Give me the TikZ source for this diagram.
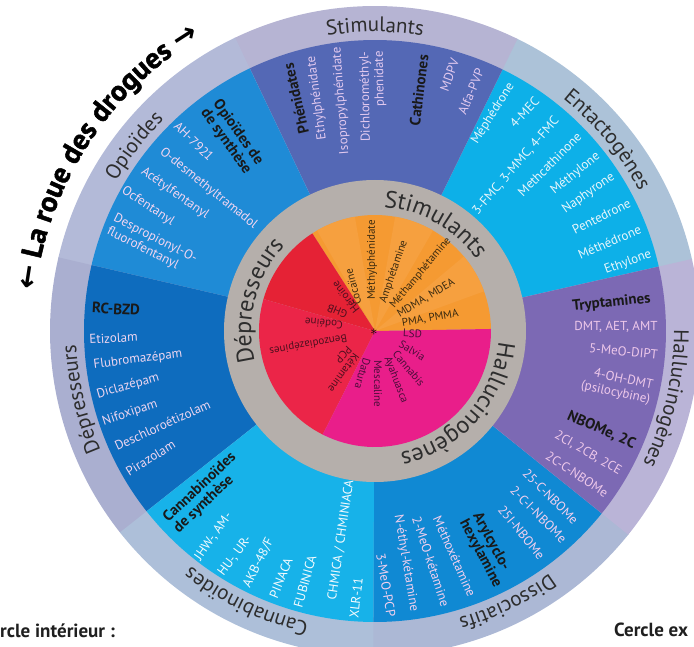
\documentclass[tikz,border=0pt]{standalone}
\usepackage{fontspec}
\setmainfont{PT Sans}
\newfontfamily\arrowfont{DejaVu Sans}
\newfontfamily\titlefam{PT Sans}[BoldFont={PT Sans Bold},BoldFeatures={FakeBold=1.6}]
\usetikzlibrary{decorations.text}

\definecolor{bandEnt}{HTML}{ACC2D8}
\definecolor{bandSti}{HTML}{B6B4D3}
\definecolor{bandOpi}{HTML}{B3BAD8}
\definecolor{bandDep}{HTML}{AAAFD0}
\definecolor{bandCan}{HTML}{ADBFD9}
\definecolor{bandDis}{HTML}{ACB8D5}
\definecolor{bandHal}{HTML}{BAB4D7}
\definecolor{secEnt}{HTML}{0DB0E8}
\definecolor{secSti}{HTML}{5468B5}
\definecolor{secOpi}{HTML}{1F8BD6}
\definecolor{secDep}{HTML}{0E6CBE}
\definecolor{secCan}{HTML}{17B2E9}
\definecolor{secDis}{HTML}{1089D3}
\definecolor{secHal}{HTML}{7C69B4}
\definecolor{stiT}{HTML}{E2C9EF}
\definecolor{entT}{HTML}{E8F6FB}
\definecolor{halT}{HTML}{EEC8EA}
\definecolor{disT}{HTML}{F2D0EE}
\definecolor{canT}{HTML}{F4FBFE}
\definecolor{depT}{HTML}{EED6F0}
\definecolor{opiT}{HTML}{F3D6F1}
\definecolor{ringgray}{HTML}{B5AFAB}
\definecolor{ringT}{HTML}{2D2D2D}
\definecolor{orA}{HTML}{F59A32}
\definecolor{orB}{HTML}{F6A03F}
\definecolor{redA}{HTML}{E52235}
\definecolor{redB}{HTML}{EB2548}
\definecolor{pinkA}{HTML}{E91E8A}
\definecolor{stimT}{HTML}{3A2A10}
\definecolor{depInT}{HTML}{4E0F1E}
\definecolor{halInT}{HTML}{4B0D3A}

\newcommand{\itmfont}{\fontsize{13}{14.5}\selectfont}
\newcommand{\hdrfont}{\fontsize{15}{15}\selectfont\bfseries}
\newcommand{\piefont}{\fontsize{11}{11}\selectfont}
\newcommand{\ringfont}{\fontsize{21}{21}\selectfont}
\newcommand{\innerfont}{\fontsize{24}{24}\selectfont}
\newcommand{\titlefont}{\titlefam\fontsize{29}{29}\selectfont\bfseries}
\newcommand{\botfont}{\fontsize{19}{19}\selectfont\bfseries}

\begin{document}
\begin{tikzpicture}[x=1pt,y=1pt,line cap=round,line join=round,
  itm/.style={font=\itmfont,inner sep=0pt},
  hdr/.style={font=\hdrfont,text=black!90,inner sep=0pt},
  pie/.style={font=\piefont,inner sep=0pt,anchor=west},
  ringlbl/.style={decorate,decoration={text along path,text align=center,text color=ringT,text={|\ringfont|#1}}},
  innerlbl/.style={decorate,decoration={text along path,text align=center,text color=ringT,text={|\innerfont|#1}}},
  titlelbl/.style={decorate,decoration={text along path,text align=center,text={|\titlefont|#1}}}]
\useasboundingbox (-375,-315) rectangle (319,331);
\clip (-375,-315) rectangle (319,331);

% outer band and the seven sectors
\foreach \a/\bc/\sc in {12.6/bandEnt/secEnt,64/bandSti/secSti,115.5/bandOpi/secOpi,166.9/bandDep/secDep,218.3/bandCan/secCan,269.7/bandDis/secDis,321.2/bandHal/secHal}
{
  \fill[\bc] (0,0) -- (\a:325) arc[start angle=\a,delta angle=51.6,radius=325] -- cycle;
  \fill[\sc] (0,0) -- (\a:291) arc[start angle=\a,delta angle=51.6,radius=291] -- cycle;
}

% inner ring and pie
\fill[ringgray] (0,0) circle[radius=151];
\fill[orA] (0,0) -- (1:116) arc[start angle=1,end angle=122.7,radius=116] -- cycle;
\foreach \a in {20,60,100}
  \fill[orB] (0,0) -- (\a:116) arc[start angle=\a,delta angle=20,radius=116] -- cycle;
\fill[redA] (0,0) -- (122.7:116) arc[start angle=122.7,end angle=164,radius=116] -- cycle;
\fill[redB] (0,0) -- (164:116) arc[start angle=164,end angle=243.2,radius=116] -- cycle;
\fill[pinkA] (0,0) -- (243.2:116) arc[start angle=243.2,end angle=361,radius=116] -- cycle;

% ring labels
\path[ringlbl=Stimulants] (150:299) arc[start angle=150,end angle=30,radius=299];
\path[ringlbl=Entactogènes] (99.5:299) arc[start angle=99.5,end angle=-20.5,radius=299];
\path[ringlbl=Hallucinogènes] (47:299) arc[start angle=47,end angle=-73,radius=299];
\path[ringlbl=Dissociatifs] (-4:299) arc[start angle=-4,end angle=-124,radius=299];
\path[ringlbl=Cannabinoïdes] (304.6:299) arc[start angle=304.6,end angle=184.6,radius=299];
\path[ringlbl=Dépresseurs] (253:299) arc[start angle=253,end angle=133,radius=299];
\path[ringlbl=Opioïdes] (202.4:299) arc[start angle=202.4,end angle=82.4,radius=299];
\path[innerlbl=Stimulants] (120.5:124) arc[start angle=120.5,end angle=0.5,radius=124];
\path[innerlbl=Dépresseurs] (225.5:124) arc[start angle=225.5,end angle=105.5,radius=124];
\path[innerlbl=Hallucinogènes] (18.3:124) arc[start angle=18.3,end angle=-101.7,radius=124];
\path[titlelbl={{\arrowfont ←} La roue des drogues {\arrowfont →}}] (207:342) arc[start angle=207,end angle=87,radius=342];

% stimulants
\node[hdr,rotate=103] (phenidates) at (-79,232.5) {Phénidates};
\node[itm,text=stiT,rotate=97.6] (ethylphen) at (-58,233) {Ethylphénidate};
\node[itm,text=stiT,rotate=94.3] (isoprop) at (-34,230) {Isopropylphénidate};
\node[itm,text=stiT,rotate=91,align=right] (dichloro) at (-2,234.5) {Dichlorométhyl-\\phenidate};
\node[hdr,rotate=83] (cathinones) at (44,241) {Cathinones};
\node[itm,text=stiT,rotate=70] (mdpv) at (74.5,256) {MDPV};
\node[itm,text=stiT,rotate=67.5] (alfapvp) at (96,239.5) {Alfa-PVP};

% entactogenes
\node[itm,text=entT,rotate=57.9] (mephedrone) at (118,217.5) {Méphédrone};
\node[itm,text=entT,rotate=46.9] (fourmec) at (149.5,218.5) {4-MEC};
\node[itm,text=entT,rotate=49.2] (fmc) at (141,165) {3-FMC, 3-MMC, 4-FMC};
\node[itm,text=entT,rotate=45] (methcath) at (174.5,166.5) {Methcathinone};
\node[itm,text=entT,rotate=39] (methylone) at (200.5,157.5) {Méthylone};
\node[itm,text=entT,rotate=35] (naphyrone) at (213.5,138) {Naphyrone};
\node[itm,text=entT,rotate=26.9] (pentedrone) at (226.5,114.5) {Pentedrone};
\node[itm,text=entT,rotate=23.5] (methedrone) at (234.5,89) {Méthédrone};
\node[itm,text=entT,rotate=20] (ethylone) at (253,68.5) {Ethylone};

% hallucinogenes
\node[hdr,rotate=6] (tryptamines) at (236.5,28) {Tryptamines};
\node[itm,text=halT,rotate=0] (dmt) at (241,4) {DMT, AET, AMT};
\node[itm,text=halT,rotate=-5.5] (fivemeo) at (248.5,-20.5) {5-MeO-DIPT};
\node[itm,text=halT,rotate=-12,align=right] (psilo) at (242,-55) {4-OH-DMT\\(psilocybine)};
\node[hdr,rotate=-23.8] (nbome) at (226.5,-99) {NBOMe, 2C};
\node[itm,text=halT,rotate=-29.7] (twoci) at (213,-122) {2CI, 2CB, 2CE};
\node[itm,text=halT,rotate=-33] (twocc) at (202,-143.5) {2C-C-NBOMe};

% dissociatifs
\node[itm,text=disT,rotate=-45] (cfive) at (175.5,-165.5) {25-C-NBOMe};
\node[itm,text=disT,rotate=-45] (cinbome) at (163.5,-183.5) {2-C-I-NBOMe};
\node[itm,text=disT,rotate=-50.7] (ifive) at (146.5,-201.5) {25I-NBOMe};
\node[hdr,rotate=-62,align=left] (arylcyclo) at (112,-219) {Arylcyclo-\\hexylamine};
\node[itm,text=disT,rotate=-65.9] (methoxet) at (79.5,-225.5) {Méthoxétamine};
\node[itm,text=disT,rotate=-71.7] (meoket) at (56,-230.5) {2-MeO-kétamine};
\node[itm,text=disT,rotate=-80.4] (nethyl) at (31,-232) {N-éthyl-kétamine};
\node[itm,text=disT,rotate=-80.3] (meopcp) at (11,-254) {3-MeO-PCP};

% cannabinoides
\node[hdr,rotate=43.5,align=left] (cannasyn) at (-170,-162) {Cannabinoïdes\\de synthèse};
\node[itm,text=canT,rotate=54.9] (jhw) at (-161.5,-205.5) {JHW-, AM-};
\node[itm,text=canT,rotate=53] (huur) at (-140,-225) {HU-, UR-};
\node[itm,text=canT,rotate=63.4] (akb) at (-116.5,-232) {AKB-48/F};
\node[itm,text=canT,rotate=67.8] (pinaca) at (-94,-247) {PINACA};
\node[itm,text=canT,rotate=74.3] (fubinica) at (-70,-250.5) {FUBINICA};
\node[itm,text=canT,rotate=81.7] (chmica) at (-34,-209) {CHMICA / CHMINIACA};
\node[itm,text=canT,rotate=83.5] (xlr) at (-19,-267) {XLR-11};

% depresseurs
\node[hdr,rotate=-3] (rcbzd) at (-259,22) {RC-BZD};
\node[itm,text=depT,rotate=3] (etizolam) at (-261.5,-7) {Etizolam};
\node[itm,text=depT,rotate=7.4] (flubro) at (-237,-28.5) {Flubromazépam};
\node[itm,text=depT,rotate=16] (diclaz) at (-247,-55) {Diclazépam};
\node[itm,text=depT,rotate=18.4] (nifox) at (-245,-82) {Nifoxipam};
\node[itm,text=depT,rotate=24.6] (deschl) at (-212.5,-94) {Deschloroétizolam};
\node[itm,text=depT,rotate=31.7] (piraz) at (-224.5,-127) {Pirazolam};

% opioides
\node[hdr,rotate=-54.5,align=left] (opiosyn) at (-143,194) {Opioïdes de\\de synthèse};
\node[itm,text=opiT,rotate=-44] (ahseven) at (-181,189.5) {AH-7921};
\node[itm,text=opiT,rotate=-38.9] (odesm) at (-166.5,142.5) {O-desmethyltramadol};
\node[itm,text=opiT,rotate=-34.9] (acetyl) at (-200,137.5) {Acétylfentanyl};
\node[itm,text=opiT,rotate=-33.4] (ocfent) at (-227,124.5) {Ocfentanyl};
\node[itm,text=opiT,rotate=-26.8,align=left] (despro) at (-223,86) {Despropionyl-O-\\fluorofentanyl};

% inner pie
\node[pie,text=stimT,rotate=105] (cocaine) at (-17,26) {Cocaïne};
\node[pie,text=stimT,rotate=90] (methylphen) at (-3,31) {Méthylphénidate};
\node[pie,text=stimT,rotate=71] (amphet) at (8,28) {Amphétamine};
\node[pie,text=stimT,rotate=50] (methamph) at (17,24) {Méthamphétamine};
\node[pie,text=stimT,rotate=31] (mdma) at (23,16) {MDMA, MDEA};
\node[pie,text=stimT,rotate=9.5] (pma) at (27,8) {PMA, PMMA};
\node[pie,text=depInT,rotate=128] (heroine) at (-18,19) {Héroïne};
\node[pie,text=depInT,rotate=158] (ghb) at (-28,16) {GHB};
\node[pie,text=depInT,rotate=175] (codeine) at (-32,6) {Codéine};
\node[pie,text=depInT,rotate=190] (benzo) at (-28,-6) {Benzodiazépines};
\node[pie,text=depInT,rotate=227] (pcp) at (-25,-17) {PCP};
\node[pie,text=depInT,rotate=234] (ketamine) at (-18,-24) {Kétamine};
\node[pie,text=halInT,rotate=-106] (datura) at (-8,-27) {Datura};
\node[pie,text=halInT,rotate=-90] (mescaline) at (3,-29) {Mescaline};
\node[pie,text=halInT,rotate=-69] (ayahuasca) at (12,-26) {Ayahuasca};
\node[pie,text=halInT,rotate=-50] (cannabis) at (20,-21) {Cannabis};
\node[pie,text=halInT,rotate=-31] (salvia) at (25,-12) {Salvia};
\node[pie,text=halInT,rotate=-3] (lsd) at (28,-2) {LSD};
\node[font=\fontsize{14}{14}\selectfont,inner sep=0pt] (star) at (-1,-1) {$\ast$};

% captions cut by the frame
\node[font=\botfont,text=black!88,anchor=base west,inner sep=0pt] (cerclein) at (-375,-306) {rcle intérieur :};
\node[font=\botfont,text=black!88,anchor=base west,inner sep=0pt] (cercleex) at (239,-305) {Cercle ex};
\end{tikzpicture}
\end{document}
